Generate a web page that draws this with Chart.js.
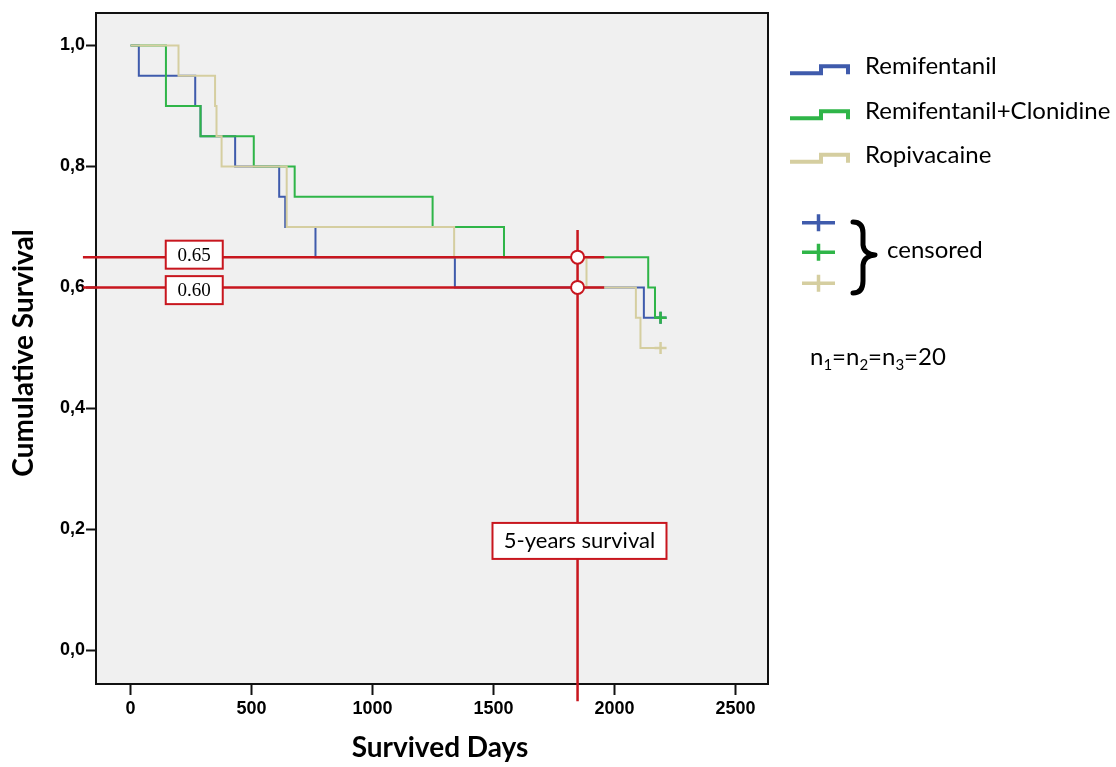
<!DOCTYPE html>
<html>
<head>
<meta charset="utf-8">
<script src="https://cdn.jsdelivr.net/npm/chart.js@4.4.1/dist/chart.umd.min.js"></script>
<style>
html,body{margin:0;padding:0;background:#fff;}
#wrap{position:relative;width:1116px;height:767px;}
</style>
</head>
<body>
<div id="wrap"><canvas id="c" width="1116" height="767"></canvas></div>
<script>
// ---- data ----
const seriesNames = ['Remifentanil', 'Remifentanil+Clonidine', 'Ropivacaine'];
const remiDays  = [0, 34, 267, 289, 432, 614, 639, 764, 1340, 2121, 2190];
const remiSurv  = [1.00, 0.95, 0.90, 0.85, 0.80, 0.75, 0.70, 0.65, 0.60, 0.55, 0.55];
const clonDays  = [0, 146, 289, 509, 678, 1248, 1543, 2139, 2167, 2190];
const clonSurv  = [1.00, 0.90, 0.85, 0.80, 0.75, 0.70, 0.65, 0.60, 0.55, 0.55];
const ropiDays  = [0, 198, 349, 355, 376, 645, 1337, 1884, 2088, 2107, 2190];
const ropiSurv  = [1.00, 0.95, 0.90, 0.85, 0.80, 0.70, 0.65, 0.60, 0.55, 0.50, 0.50];
const censorDays = [2190, 2190, 2190];
const censorSurv = [0.55, 0.55, 0.50];
const xTicks = [0, 500, 1000, 1500, 2000, 2500];
const yTicks = [0, 0.2, 0.4, 0.6, 0.8, 1.0];
const refSurv = [0.65, 0.60];
const refLabels = ['0.65', '0.60'];
const fiveYearDay = 1847;
const fiveYearLabel = '5-years survival';
const xTitle = 'Survived Days';
const yTitle = 'Cumulative Survival';
const censorLabel = 'censored';

// ---- annotation geometry (in axis units) ----
const refLineFrom = -197, refLineTo = 1957;
const vLineTop = 0.695, vLineBottom = -0.084;

// ---- styles ----
const RED = '#c8161e';
const COLORS = ['#3f5bac', '#2fb548', '#d5cea0'];

const pts = (xs, ys) => xs.map((x, i) => ({x, y: ys[i]}));

const datasets = [
  ...refSurv.map(v => ({
    type: 'line', data: [{x: refLineFrom, y: v}, {x: refLineTo, y: v}],
    borderColor: RED, borderWidth: 2.5, pointRadius: 0, clip: false, order: 1
  })),
  { type: 'line', data: [{x: fiveYearDay, y: vLineTop}, {x: fiveYearDay, y: vLineBottom}],
    borderColor: RED, borderWidth: 2.5, pointRadius: 0, clip: false, order: 1 },
  { type: 'scatter', data: refSurv.map(v => ({x: fiveYearDay, y: v})),
    pointRadius: 6.5, pointBackgroundColor: '#fff', pointBorderColor: RED,
    pointBorderWidth: 2, order: 0, clip: false },
  { type: 'line', label: seriesNames[2], data: pts(ropiDays, ropiSurv), stepped: 'before',
    borderColor: COLORS[2], borderWidth: 2, pointRadius: 0, fill: false, order: 2 },
  { type: 'line', label: seriesNames[1], data: pts(clonDays, clonSurv), stepped: 'before',
    borderColor: COLORS[1], borderWidth: 2, pointRadius: 0, fill: false, order: 3 },
  { type: 'line', label: seriesNames[0], data: pts(remiDays, remiSurv), stepped: 'before',
    borderColor: COLORS[0], borderWidth: 2, pointRadius: 0, fill: false, order: 4 },
  ...[2, 1, 0].map((k, j) => ({
    type: 'scatter', data: [{x: censorDays[k], y: censorSurv[k]}],
    pointStyle: 'cross', pointRadius: 6, pointBorderColor: COLORS[k],
    pointBorderWidth: 2.5, order: 2 + j
  }))
];

const deco = {
  id: 'deco',
  beforeDraw(chart) {
    const {ctx, chartArea: a} = chart;
    ctx.save();
    ctx.fillStyle = '#fff';
    ctx.fillRect(0, 0, chart.width, chart.height);
    ctx.fillStyle = '#f0f0f0';
    ctx.fillRect(a.left, a.top, a.right - a.left, a.bottom - a.top);
    ctx.restore();
  },
  beforeDatasetsDraw(chart) {
    const {ctx, chartArea: a} = chart;
    ctx.save();
    ctx.strokeStyle = '#111';
    ctx.lineWidth = 2;
    ctx.strokeRect(a.left, a.top, a.right - a.left, a.bottom - a.top);
    ctx.restore();
  },
  afterDraw(chart) {
    const {ctx} = chart;
    const xs = chart.scales.x, ys = chart.scales.y;
    ctx.save();
    const offs = [-2.5, 2.7];
    refSurv.forEach((v, i) => {
      const cx = xs.getPixelForValue(263), cy = ys.getPixelForValue(v) + offs[i];
      const w = 57, h = 28;
      ctx.fillStyle = '#fff';
      ctx.fillRect(cx - w/2, cy - h/2, w, h);
      ctx.strokeStyle = RED; ctx.lineWidth = 2;
      ctx.strokeRect(cx - w/2, cy - h/2, w, h);
      ctx.fillStyle = '#000';
      ctx.font = '19px "Liberation Serif", serif';
      ctx.textAlign = 'center'; ctx.textBaseline = 'middle';
      ctx.fillText(refLabels[i], cx, cy + 1);
    });
    {
      const cx = xs.getPixelForValue(1855), cy = ys.getPixelForValue(0.181);
      const w = 174, h = 36;
      ctx.fillStyle = '#fff';
      ctx.fillRect(cx - w/2, cy - h/2, w, h);
      ctx.strokeStyle = RED; ctx.lineWidth = 2;
      ctx.strokeRect(cx - w/2, cy - h/2, w, h);
      ctx.fillStyle = '#000';
      ctx.font = '22px Lato, "Open Sans", sans-serif';
      ctx.textAlign = 'center'; ctx.textBaseline = 'alphabetic';
      ctx.fillText(fiveYearLabel, cx, cy + 7);
    }
    ctx.fillStyle = '#000';
    ctx.font = 'bold 28px Lato, "Open Sans", sans-serif';
    ctx.textAlign = 'center'; ctx.textBaseline = 'alphabetic';
    ctx.fillText(xTitle, 440, 757);
    ctx.save();
    ctx.translate(33, 353);
    ctx.rotate(-Math.PI / 2);
    ctx.fillText(yTitle, 0, 0);
    ctx.restore();
    const baselines = [74.3, 119.3, 162.7];
    seriesNames.forEach((name, i) => {
      const b = baselines[i];
      const lo = b - 1, hi = b - 8;
      ctx.strokeStyle = COLORS[i]; ctx.lineWidth = 4;
      ctx.lineJoin = 'miter'; ctx.lineCap = 'butt';
      ctx.beginPath();
      ctx.moveTo(790, lo); ctx.lineTo(821, lo); ctx.lineTo(821, hi);
      ctx.lineTo(848, hi); ctx.lineTo(848, lo + 1);
      ctx.stroke();
      ctx.fillStyle = '#000';
      ctx.font = '24px Lato, "Open Sans", sans-serif';
      ctx.textAlign = 'left'; ctx.textBaseline = 'alphabetic';
      ctx.fillText(name, 865, b);
    });
    const cys = [222.7, 252.3, 283.3];
    cys.forEach((cy, i) => {
      ctx.strokeStyle = COLORS[i]; ctx.lineWidth = 3.5; ctx.lineCap = 'butt';
      ctx.beginPath();
      ctx.moveTo(802, cy); ctx.lineTo(835, cy);
      ctx.moveTo(818.5, cy - 8.5); ctx.lineTo(818.5, cy + 8.5);
      ctx.stroke();
    });
    ctx.strokeStyle = '#000'; ctx.lineWidth = 5; ctx.lineCap = 'round'; ctx.lineJoin = 'round';
    ctx.beginPath();
    ctx.moveTo(853, 222);
    ctx.quadraticCurveTo(863, 222, 863, 233);
    ctx.lineTo(863, 245);
    ctx.quadraticCurveTo(864, 254, 875, 255);
    ctx.quadraticCurveTo(864, 256, 863, 265);
    ctx.lineTo(863, 281);
    ctx.quadraticCurveTo(863, 293, 853, 293);
    ctx.stroke();
    ctx.fillStyle = '#000';
    ctx.font = '24px Lato, "Open Sans", sans-serif';
    ctx.textAlign = 'left';
    ctx.fillText(censorLabel, 887, 258.3);
    let x = 810;
    const base = 365;
    const parts = [['n', 0], ['1', 1], ['=n', 0], ['2', 1], ['=n', 0], ['3', 1], ['=20', 0]];
    parts.forEach(([t, sub]) => {
      ctx.font = sub ? '15px Lato, "Open Sans", sans-serif' : '24px Lato, "Open Sans", sans-serif';
      ctx.fillText(t, x, sub ? base + 5 : base);
      x += ctx.measureText(t).width;
    });
    ctx.restore();
  }
};

new Chart(document.getElementById('c'), {
  type: 'scatter',
  data: { datasets },
  options: {
    responsive: false,
    animation: false,
    devicePixelRatio: 1,
    events: [],
    layout: { padding: { left: 0, top: 13, right: 1116 - 768, bottom: 0 } },
    plugins: { legend: { display: false }, tooltip: { enabled: false } },
    scales: {
      x: {
        type: 'linear', min: -143, max: 2634,
        afterBuildTicks: s => { s.ticks = xTicks.map(v => ({value: v})); },
        afterFit: s => { s.height = 767 - 684; },
        grid: { display: true, drawOnChartArea: false, drawTicks: true, tickLength: 11,
                tickWidth: 2, tickColor: '#111', color: '#111' },
        border: { display: false },
        ticks: { color: '#000', padding: 3, maxRotation: 0,
                 callback: v => String(v),
                 font: { family: '"Liberation Sans", Arial, sans-serif', size: 18, weight: 'bold' } }
      },
      y: {
        type: 'linear', min: -0.0555, max: 1.0536,
        afterBuildTicks: s => { s.ticks = yTicks.map(v => ({value: v})); },
        afterFit: s => { s.width = 96; },
        grid: { display: true, drawOnChartArea: false, drawTicks: true, tickLength: 10,
                tickWidth: 2, tickColor: '#111', color: '#111' },
        border: { display: false },
        ticks: { color: '#000', padding: 1,
                 callback: v => v.toFixed(1).replace('.', ','),
                 font: { family: '"Liberation Sans", Arial, sans-serif', size: 18, weight: 'bold' } }
      }
    }
  },
  plugins: [deco]
});
</script>
</body>
</html>
